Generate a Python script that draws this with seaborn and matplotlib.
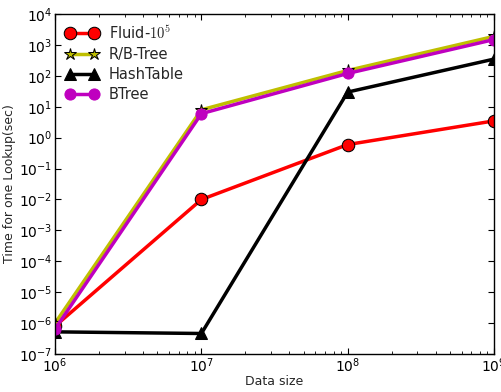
import pandas as pd
import seaborn as sns
import matplotlib
matplotlib.use("Agg")
import matplotlib.pyplot as plt
from matplotlib.ticker import LogLocator, NullLocator

data_sizes = [1e6, 1e7, 1e8, 1e9]
series_names = ["Fluid-$10^5$", "R/B-Tree", "HashTable", "BTree"]
fluid = [8e-7, 1e-2, 0.6, 3.5]
rbtree = [1.0e-6, 8.0, 150.0, 1900.0]
hashtable = [5.2e-7, 4.6e-7, 30.0, 350.0]
btree = [6.5e-7, 6.0, 120.0, 1500.0]

styles = {
    "Fluid-$10^5$": dict(color="red", marker="o", markeredgecolor="black", markersize=9),
    "R/B-Tree": dict(color=(0.75, 0.75, 0), marker="*", markeredgecolor="black", markersize=9),
    "HashTable": dict(color="black", marker="^", markeredgecolor="black", markersize=9),
    "BTree": dict(color=(0.75, 0, 0.75), marker="o", markeredgecolor=(0.75, 0, 0.75), markersize=8),
}

df = pd.DataFrame({
    "size": data_sizes * 4,
    "time": fluid + rbtree + hashtable + btree,
    "series": [n for n in series_names for _ in data_sizes],
})

sns.set_style("ticks", {"xtick.direction": "in", "ytick.direction": "in"})
plt.rcParams["font.family"] = ["DejaVu Sans"]
plt.rcParams["mathtext.fontset"] = "cm"

fig = plt.figure(figsize=(5.01, 3.92), dpi=100)
ax = fig.add_axes([0.11, 0.097, 0.876, 0.867])
for name in series_names:
    sub = df[df["series"] == name]
    sns.lineplot(data=sub, x="size", y="time", ax=ax, label=name, linewidth=2.5, **styles[name])

ax.set_xscale("log")
ax.set_yscale("log")
ax.set_xlim(1e6, 1e9)
ax.set_ylim(1e-7, 1e4)
ax.yaxis.set_major_locator(LogLocator(base=10, numticks=20))
ax.yaxis.set_minor_locator(NullLocator())
ax.set_xlabel("Data size", fontsize=9, labelpad=0)
ax.set_ylabel("Time for one Lookup(sec)", fontsize=9, labelpad=2)
ax.tick_params(which="both", top=True, right=True, labelsize=10, colors="black")
ax.tick_params(which="major", length=4, pad=2)
ax.tick_params(which="minor", length=2)
for s in ax.spines.values():
    s.set_linewidth(1.0)
    s.set_color("black")
ax.legend(loc="upper left", frameon=False, fontsize=10.5, handlelength=2.3, numpoints=2,
          labelspacing=0.35, borderaxespad=0.3, handletextpad=0.7)
fig.savefig("out.png", dpi=100)
